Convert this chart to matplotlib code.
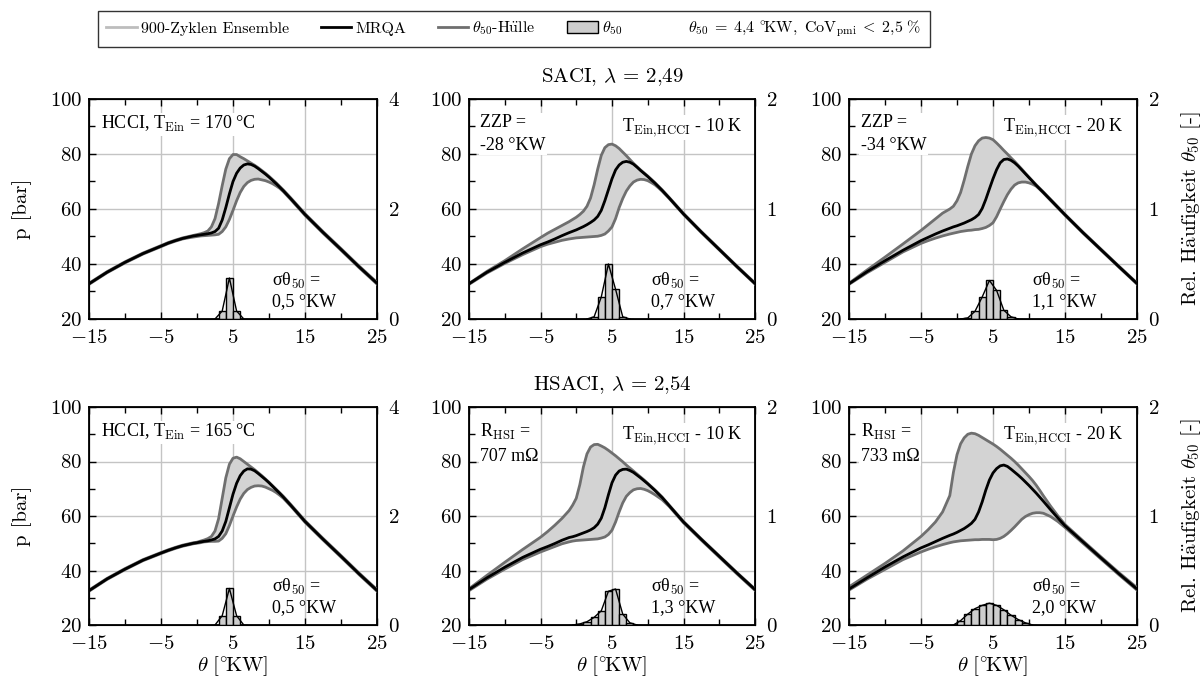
import numpy as np
import matplotlib
matplotlib.use('Agg')
import matplotlib.pyplot as plt
from matplotlib.lines import Line2D
from matplotlib.patches import Patch

plt.rcParams['font.family'] = ['cmr10', 'Liberation Serif', 'DejaVu Serif']
plt.rcParams['mathtext.fontset'] = 'cm'
plt.rcParams['axes.formatter.use_mathtext'] = True
plt.rcParams['axes.unicode_minus'] = True

# crank angle grid [°KW]
theta = [-15, -12.5, -10, -7.5, -5, -4, -3, -2,
         -1, -0.5, 0, 0.5, 1, 1.5, 2, 2.5, 3, 3.5, 4, 4.5, 5, 5.5, 6, 6.5, 7, 7.5,
         8, 8.5, 9, 9.5, 10, 10.5, 11, 11.5, 12,
         13, 14, 15, 17.5, 20, 22.5, 25]

# HCCI 170 °C (top left)
p_mrqa_tl = [32.8, 37.0, 40.6, 43.8, 46.5, 47.6, 48.5, 49.3,
             49.9, 50.2, 50.4, 50.6, 50.8, 51.0, 51.3, 51.8, 53.0, 56.0, 60.5, 65.5, 70.0, 73.0, 74.9, 76.0, 76.4, 76.2,
             75.6, 74.7, 73.7, 72.7, 71.6, 70.4, 69.2, 67.9, 66.6,
             63.8, 60.9, 58.0, 51.5, 45.3, 39.0, 33.0]
p_max_tl = [33.0, 37.2, 40.8, 44.0, 46.7, 47.8, 48.7, 49.5,
            50.1, 50.4, 50.7, 51.0, 51.4, 52.0, 53.5, 56.5, 62.0, 68.5, 74.5, 78.3, 79.8, 79.8, 79.0, 78.3, 77.5, 76.7,
            75.9, 75.0, 74.0, 73.0, 71.9, 70.7, 69.5, 68.2, 66.9,
            64.1, 61.2, 58.3, 51.8, 45.6, 39.3, 33.3]
p_min_tl = [32.6, 36.8, 40.4, 43.6, 46.3, 47.4, 48.3, 49.1,
            49.6, 49.8, 50.0, 50.2, 50.3, 50.4, 50.5, 50.6, 50.8, 51.8, 53.5, 56.2, 59.5, 63.0, 66.0, 68.2, 69.6, 70.4,
            70.8, 70.9, 70.6, 70.3, 69.8, 69.2, 68.4, 67.5, 66.3,
            63.5, 60.6, 57.7, 51.2, 45.0, 38.7, 32.7]

# SACI, ZZP -28 °KW (top middle)
p_mrqa_tm = [32.8, 37.0, 40.6, 44.0, 47.0, 48.0, 49.1, 50.3,
             51.4, 51.9, 52.4, 53.0, 53.6, 54.3, 55.1, 56.0, 57.3, 59.5, 63.0, 67.0, 71.0, 74.2, 76.0, 77.0, 77.3, 77.0,
             76.3, 75.2, 74.0, 72.9, 71.8, 70.6, 69.4, 68.1, 66.8,
             64.0, 61.1, 58.2, 51.6, 45.3, 39.0, 32.9]
p_max_tm = [32.9, 37.3, 41.2, 45.5, 49.6, 51.2, 52.6, 54.0,
            55.4, 56.2, 57.0, 58.0, 59.2, 61.0, 64.0, 68.8, 74.5, 79.5, 82.3, 83.4, 83.6, 83.0, 82.0, 80.7, 79.4, 78.0,
            76.6, 75.4, 74.2, 73.1, 72.0, 70.8, 69.6, 68.3, 67.0,
            64.2, 61.3, 58.4, 51.8, 45.5, 39.2, 33.1]
p_min_tm = [32.6, 36.7, 40.2, 43.4, 46.3, 47.2, 47.9, 48.6,
            49.1, 49.3, 49.5, 49.6, 49.7, 49.8, 49.9, 50.0, 50.1, 50.4, 50.9, 52.0, 53.5, 56.5, 60.5, 63.8, 66.5, 68.4,
            69.8, 70.5, 70.8, 70.7, 70.3, 69.6, 68.8, 67.7, 66.5,
            63.8, 60.9, 58.0, 51.4, 45.1, 38.8, 32.7]

# SACI, ZZP -34 °KW (top right)
p_mrqa_tr = [32.8, 37.2, 41.2, 45.0, 48.5, 49.7, 50.9, 52.0,
             53.0, 53.5, 53.9, 54.4, 54.9, 55.5, 56.1, 56.9, 58.0, 60.2, 63.5, 67.3, 71.0, 74.3, 76.8, 78.0, 78.2, 77.7,
             76.8, 75.6, 74.2, 72.8, 71.4, 70.0, 68.6, 67.3, 66.0,
             63.3, 60.6, 57.9, 51.4, 45.2, 39.0, 32.9]
p_max_tr = [33.0, 37.8, 42.5, 47.3, 52.2, 54.3, 56.4, 58.5,
            60.0, 61.0, 63.0, 66.0, 70.5, 75.5, 80.0, 83.0, 84.8, 85.8, 86.0, 85.8, 85.2, 84.0, 82.7, 81.3, 80.0, 78.6,
            77.3, 75.9, 74.5, 73.0, 71.6, 70.2, 68.8, 67.5, 66.2,
            63.5, 60.8, 58.1, 51.6, 45.4, 39.2, 33.1]
p_min_tr = [32.6, 36.8, 40.6, 44.4, 47.5, 48.5, 49.4, 50.2,
            50.9, 51.2, 51.5, 51.8, 52.0, 52.2, 52.3, 52.5, 52.6, 52.9, 53.3, 54.0, 55.0, 57.2, 60.0, 62.7, 65.2, 67.2,
            68.7, 69.5, 69.8, 69.8, 69.5, 69.0, 68.3, 67.1, 65.8,
            63.1, 60.4, 57.7, 51.2, 45.0, 38.8, 32.7]

# HCCI 165 °C (bottom left)
p_mrqa_bl = [32.6, 36.9, 40.5, 43.8, 46.4, 47.4, 48.3, 49.1,
             49.7, 50.0, 50.2, 50.5, 50.7, 50.9, 51.2, 51.6, 52.5, 54.5, 58.0, 63.0, 68.0, 72.0, 74.8, 76.5, 77.3, 77.2,
             76.6, 75.6, 74.5, 73.4, 72.2, 70.9, 69.6, 68.3, 66.9,
             64.0, 61.0, 58.0, 51.5, 45.2, 38.8, 32.7]
p_max_bl = [32.8, 37.1, 40.7, 44.0, 46.6, 47.6, 48.5, 49.3,
            49.9, 50.2, 50.4, 50.8, 51.2, 51.7, 52.5, 54.5, 59.0, 66.5, 74.0, 79.0, 81.2, 81.6, 81.0, 80.0, 79.0, 78.0,
            77.0, 75.9, 74.8, 73.6, 72.4, 71.1, 69.8, 68.5, 67.2,
            64.3, 61.3, 58.3, 51.8, 45.5, 39.1, 33.0]
p_min_bl = [32.4, 36.7, 40.3, 43.6, 46.2, 47.2, 48.1, 48.9,
            49.5, 49.8, 50.0, 50.2, 50.5, 50.6, 50.7, 50.7, 50.8, 51.8, 53.5, 56.5, 60.0, 63.3, 66.2, 68.3, 69.7, 70.5,
            71.0, 71.1, 71.0, 70.6, 70.0, 69.4, 68.6, 67.6, 66.5,
            63.7, 60.7, 57.7, 51.2, 44.9, 38.5, 32.4]

# HSACI, R_HSI 707 mOhm (bottom middle)
p_mrqa_bm = [33.0, 37.3, 41.2, 44.8, 47.8, 48.8, 49.9, 51.1,
             52.1, 52.4, 52.8, 53.3, 53.8, 54.3, 54.9, 55.7, 57.0, 59.2, 63.0, 67.8, 72.2, 75.0, 76.5, 77.1, 77.2, 76.7,
             76.0, 75.0, 74.0, 72.9, 71.8, 70.6, 69.4, 68.1, 66.8,
             63.8, 60.8, 57.8, 51.4, 45.2, 39.0, 33.0]
p_max_bm = [33.3, 38.2, 43.0, 47.7, 52.2, 54.3, 56.6, 59.1,
            62.0, 64.0, 66.5, 71.5, 78.0, 82.8, 85.3, 86.2, 86.3, 85.7, 85.0, 84.1, 83.1, 82.1, 81.0, 79.9, 78.7, 77.6,
            76.5, 75.4, 74.3, 73.2, 72.0, 70.8, 69.6, 68.3, 67.0,
            64.0, 61.0, 58.0, 51.6, 45.4, 39.2, 33.2]
p_min_bm = [32.6, 36.8, 40.5, 44.0, 46.8, 47.8, 48.8, 49.8,
            50.5, 50.8, 51.0, 51.1, 51.2, 51.3, 51.4, 51.5, 51.6, 51.9, 52.3, 53.2, 54.8, 57.8, 61.5, 64.8, 67.2, 68.6,
            69.6, 70.0, 70.1, 69.8, 69.3, 68.6, 67.8, 66.9, 66.0,
            63.5, 60.5, 57.5, 51.1, 44.9, 38.7, 32.7]

# HSACI, R_HSI 733 mOhm (bottom right)
p_mrqa_br = [33.2, 37.3, 41.3, 45.0, 48.3, 49.4, 50.6, 51.8,
             52.9, 53.4, 54.0, 54.7, 55.4, 56.3, 57.3, 58.8, 61.5, 65.2, 69.5, 73.2, 75.8, 77.4, 78.4, 78.7, 78.2, 77.2,
             76.1, 75.0, 73.8, 72.5, 71.2, 69.8, 68.4, 66.9, 65.4,
             62.3, 59.3, 56.4, 50.5, 44.6, 38.8, 33.2]
p_max_br = [34.0, 38.3, 42.6, 47.2, 52.5, 55.0, 57.8, 61.5,
            67.5, 76.0, 82.5, 86.5, 88.7, 90.0, 90.4, 90.2, 89.6, 88.8, 88.0, 87.2, 86.4, 85.5, 84.5, 83.4, 82.3, 81.2,
            80.0, 78.7, 77.3, 75.9, 74.5, 73.0, 71.3, 69.4, 67.4,
            63.6, 60.1, 56.9, 50.9, 45.0, 39.2, 33.7]
p_min_br = [32.8, 36.8, 40.4, 44.0, 46.8, 47.8, 48.7, 49.5,
            50.2, 50.5, 50.7, 50.9, 51.0, 51.1, 51.2, 51.3, 51.3, 51.4, 51.4, 51.4, 51.3, 51.4, 51.8, 52.5, 53.5, 54.7,
            56.0, 57.4, 58.8, 59.8, 60.5, 61.0, 61.2, 61.2, 61.0,
            59.8, 58.0, 55.8, 50.0, 44.2, 38.4, 32.8]

# theta50 histograms: left bin edges [°KW], relative frequency
hist_tl_bins = [2, 3, 4, 5, 6]
hist_tl_vals = [0, 0.145, 0.745, 0.145, 0]
hist_tm_bins = [1, 2, 3, 4, 5, 6, 7]
hist_tm_vals = [0, 0.02, 0.2, 0.5, 0.27, 0.02, 0]
hist_tr_bins = [0, 1, 2, 3, 4, 5, 6, 7, 8]
hist_tr_vals = [0, 0.01, 0.07, 0.2, 0.35, 0.26, 0.08, 0.02, 0]
hist_bl_bins = [2, 3, 4, 5, 6]
hist_bl_vals = [0, 0.17, 0.67, 0.17, 0]
hist_bm_bins = [-1, 0, 1, 2, 3, 4, 5, 6, 7, 8]
hist_bm_vals = [0, 0.01, 0.03, 0.07, 0.13, 0.31, 0.33, 0.1, 0.02, 0]
hist_br_bins = [-1, 0, 1, 2, 3, 4, 5, 6, 7, 8, 9, 10]
hist_br_vals = [0, 0.04, 0.1, 0.15, 0.18, 0.2, 0.18, 0.14, 0.09, 0.05, 0.02, 0]

panel_text = ['HCCI, T$_{\\rm Ein}$ = 170 °C', 'ZZP =\n-28 °KW', 'ZZP =\n-34 °KW',
              'HCCI, T$_{\\rm Ein}$ = 165 °C', 'R$_{\\rm HSI}$ =\n707 mΩ', 'R$_{\\rm HSI}$ =\n733 mΩ']
temp_text = [None, 'T$_{\\rm Ein,\\!HCCI}$ - 10 K', 'T$_{\\rm Ein,\\!HCCI}$ - 20 K',
             None, 'T$_{\\rm Ein,\\!HCCI}$ - 10 K', 'T$_{\\rm Ein,\\!HCCI}$ - 20 K']
sigma_text = ['0,5', '0,7', '1,1', '0,5', '1,3', '2,0']

c_fill = '#d3d3d3'
c_env = '#6f6f6f'
c_ens = '#bdbdbd'
c_bar = '#cdcdcd'
times = ['Liberation Serif', 'DejaVu Serif']

fig = plt.figure(figsize=(12.01, 6.86), dpi=100)
W, H = 1201., 686.
cols = [(89, 377), (469, 755), (849, 1137)]
rows = [(99, 319), (407, 625)]

panels = [(p_max_tl, p_mrqa_tl, p_min_tl, hist_tl_bins, hist_tl_vals),
          (p_max_tm, p_mrqa_tm, p_min_tm, hist_tm_bins, hist_tm_vals),
          (p_max_tr, p_mrqa_tr, p_min_tr, hist_tr_bins, hist_tr_vals),
          (p_max_bl, p_mrqa_bl, p_min_bl, hist_bl_bins, hist_bl_vals),
          (p_max_bm, p_mrqa_bm, p_min_bm, hist_bm_bins, hist_bm_vals),
          (p_max_br, p_mrqa_br, p_min_br, hist_br_bins, hist_br_vals)]

for jp, (pmax, pmrqa, pmin, hbins, hvals) in enumerate(panels):
    jrow, jcol = divmod(jp, 3)
    x0, x1 = cols[jcol]
    y0, y1 = rows[jrow]
    ax = fig.add_axes([x0/W, 1 - y1/H, (x1 - x0)/W, (y1 - y0)/H])
    ax.fill_between(theta, pmin, pmax, color=c_fill, lw=0, zorder=2)
    ax.plot(theta, pmax, color=c_env, lw=2, zorder=3)
    ax.plot(theta, pmin, color=c_env, lw=2, zorder=3)
    ax.plot(theta, pmrqa, color='k', lw=2, zorder=4)
    ax.set_xlim(-15, 25)
    ax.set_ylim(20, 100)
    ax.set_xticks([-15, -5, 5, 15, 25])
    ax.set_xticks([-10, 0, 10, 20], minor=True)
    ax.set_yticks([20, 40, 60, 80, 100])
    ax.set_yticks([30, 50, 70, 90], minor=True)
    ax.grid(True, which='major', color='#c4c4c4', lw=1, zorder=0)
    ax.set_axisbelow(True)
    ax.tick_params(which='both', direction='in', top=True, right=True, labelsize=15)
    ax.tick_params(axis='x', pad=7)
    ax.tick_params(axis='y', pad=5)
    ax.tick_params(which='major', length=5, width=1)
    ax.tick_params(which='minor', length=4, width=1)
    for sp in ax.spines.values():
        sp.set_linewidth(1.3)
    if jrow == 1:
        ax.set_xlabel(r'$\theta\ [{}^{\circ}\!\mathrm{KW}]$', fontsize=15, labelpad=1)
    if jcol == 0:
        ax.set_ylabel('p [bar]', fontsize=15, labelpad=13)

    ymax_r = 4 if jcol == 0 else 2
    ax2 = ax.twinx()
    ax2.set_ylim(0, ymax_r)
    ax2.set_yticks(np.linspace(0, ymax_r, 3))
    ax2.tick_params(length=0, labelsize=15, pad=8)
    ax2.bar(hbins, hvals, width=1, align='edge', color=c_bar, edgecolor='k', lw=1, zorder=2)
    ax2.plot(np.array(hbins) + 0.5, hvals, color='k', lw=1, zorder=3)
    if jcol == 2:
        ax2.set_ylabel(r'Rel. H$\mathrm{\ddot{a}}$ufigkeit $\theta_{50}$ [-]', fontsize=15, labelpad=14)

    ax2.text(0.04, 0.93, panel_text[jp], transform=ax2.transAxes, ha='left', va='top',
             fontsize=13, family=times, linespacing=1.4, zorder=10,
             bbox=dict(facecolor='white', edgecolor='none', pad=1))
    if temp_text[jp]:
        ax2.text(0.955, 0.87, temp_text[jp], transform=ax2.transAxes, ha='right', va='center',
                 fontsize=13, family=times, zorder=10,
                 bbox=dict(facecolor='white', edgecolor='none', pad=1))
    ax2.text(0.635, 0.04, 'σθ$_{50}$ =\n' + sigma_text[jp] + ' °KW', transform=ax2.transAxes,
             ha='left', va='bottom', fontsize=13, family=times, linespacing=1.2, zorder=10)

fig.text(612/W, 1 - 77/H, r'SACI, $\lambda$ = 2,49', ha='center', va='center', fontsize=15)
fig.text(612/W, 1 - 385/H, r'HSACI, $\lambda$ = 2,54', ha='center', va='center', fontsize=15)

handles = [Line2D([], [], color=c_ens, lw=2),
           Line2D([], [], color='k', lw=2),
           Line2D([], [], color=c_env, lw=2),
           Patch(facecolor=c_bar, edgecolor='k', lw=1),
           Line2D([], [], color='none')]
labels = ['900-Zyklen Ensemble', 'MRQA', r'$\theta_{50}$-H$\mathrm{\ddot{u}}$lle', r'$\theta_{50}$',
          r'$\theta_{50}\;=\;4{,}4\ {}^{\circ}\!\mathrm{KW},\ \mathrm{CoV}_\mathrm{pmi}\;<\;2{,}5\ \%$']
leg = fig.legend(handles, labels, loc='center', bbox_to_anchor=(514/W, 1 - 29/H), ncol=5,
                 fontsize=11.5, frameon=True, fancybox=False, edgecolor='k', handlelength=1.9,
                 handletextpad=0.25, columnspacing=2.0, borderpad=0.5)
leg.get_frame().set_linewidth(1)

fig.savefig('out.png', dpi=100)
